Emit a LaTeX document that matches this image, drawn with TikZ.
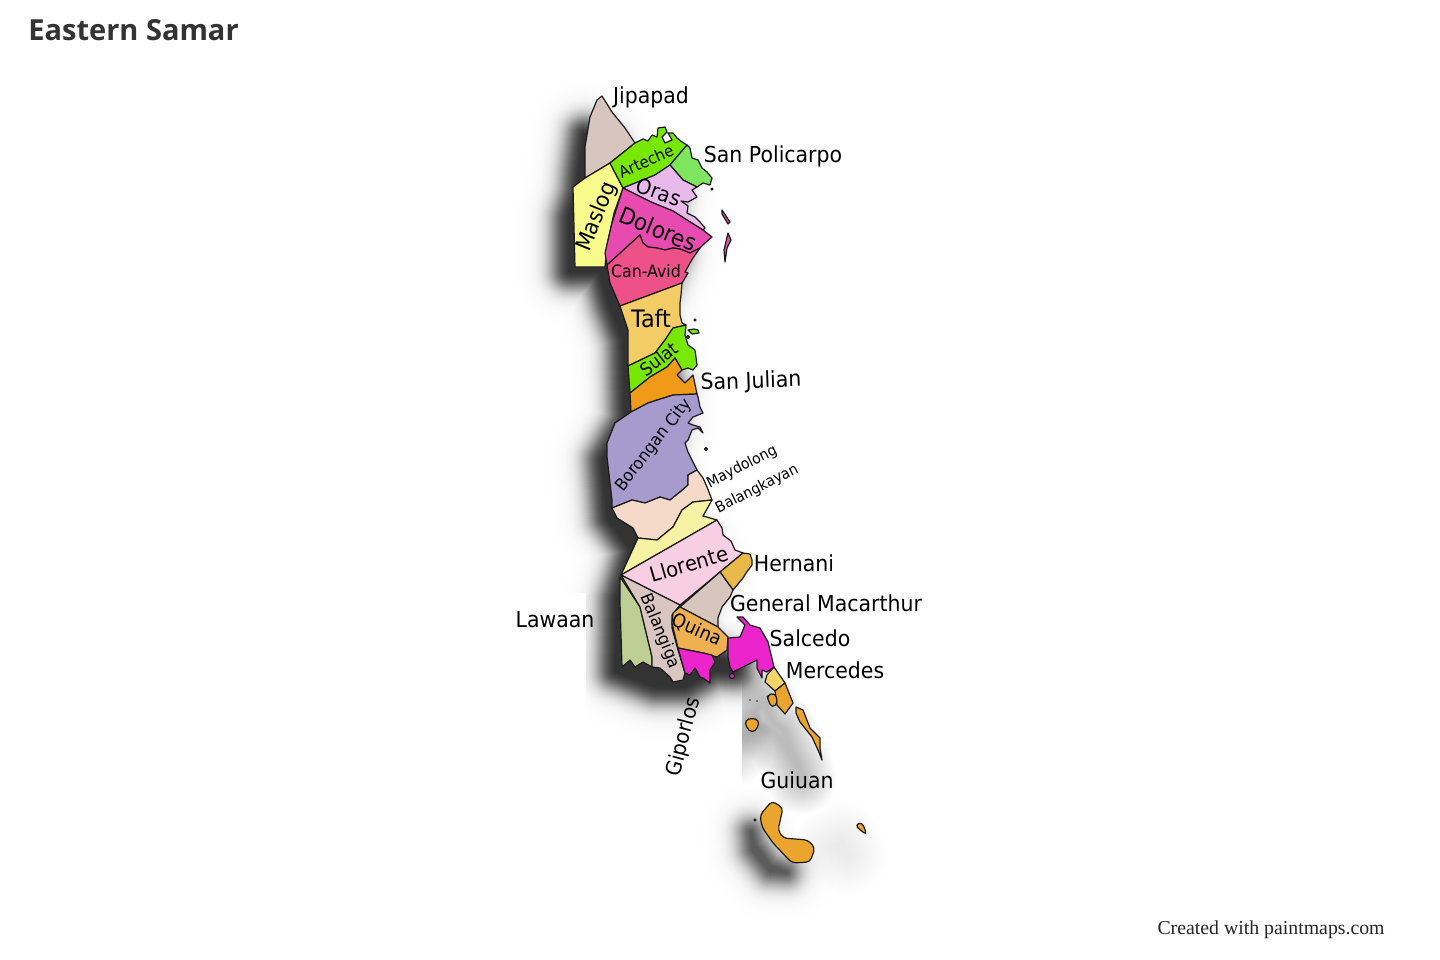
\documentclass[tikz,border=0pt]{standalone}
\usepackage{fontspec}
\setmainfont{Liberation Serif}
\newfontfamily\lblfont[FakeStretch=0.93]{DejaVu Sans}
\newfontfamily\titlefont{Open Sans}
\usetikzlibrary{calc}
\definecolor{cJipapad}{HTML}{D6C6BE}
\definecolor{cArteche}{HTML}{78E803}
\definecolor{cPolicarpo}{HTML}{80E55E}
\definecolor{cOras}{HTML}{EAB9EC}
\definecolor{cDolores}{HTML}{E84BB0}
\definecolor{cMaslog}{HTML}{F8FA8C}
\definecolor{cCanAvid}{HTML}{EE5088}
\definecolor{cTaft}{HTML}{F4CC66}
\definecolor{cJulian}{HTML}{F19A17}
\definecolor{cBorongan}{HTML}{A79BCE}
\definecolor{cMaydolong}{HTML}{F5D9C9}
\definecolor{cBalangkayan}{HTML}{F6F2A4}
\definecolor{cLlorente}{HTML}{F8CFE2}
\definecolor{cHernani}{HTML}{E8B84A}
\definecolor{cBalangiga}{HTML}{D9C6C0}
\definecolor{cLawaan}{HTML}{BDCF95}
\definecolor{cQuina}{HTML}{EEB050}
\definecolor{cSalcedo}{HTML}{EC24CC}
\definecolor{cMercedes}{HTML}{F6D568}
\definecolor{cGuiuan}{HTML}{EBA52F}
\definecolor{cLine}{HTML}{1A1A1A}

\def\pJipapad{(602,96) -- (612,112) -- (625,128) -- (635,143) -- (610,163) -- (585,178) -- (585,147) -- (590,117) -- (597,100) -- cycle}
\def\pArteche{(610,163) -- (635,143) -- (643,139) -- (648,141) -- (652,135) -- (657,137) -- (658,128) -- (665,127) -- (667,132) -- (662,137) -- (665,143) -- (672,140) -- (668,133) -- (673,133) -- (677,138) -- (682,142) -- (687,145) -- (670,165) -- (655,175) -- (623,188) -- cycle}
\def\pPolicarpo{(687,145) -- (690,148) -- (692,158) -- (698,160) -- (702,168) -- (707,172) -- (712,178) -- (710,185) -- (703,183) -- (697,187) -- (683,180) -- (670,165) -- cycle}
\def\pOras{(623,188) -- (655,175) -- (670,165) -- (683,180) -- (697,187) -- (692,190) -- (697,197) -- (688,202) -- (681,201) -- (688,206) -- (687,213) -- (695,217) -- (700,222) -- (705,228) -- (703,230) -- (687,220) -- (673,211) -- (651,202) -- cycle}
\def\pDolores{(623,188) -- (651,202) -- (673,211) -- (687,220) -- (703,230) -- (712,237) -- (705,243) -- (700,248) -- (690,253) -- (680,249) -- (673,248) -- (665,250) -- (657,248) -- (648,247) -- (643,243) -- (640,235) -- (607,265) -- (605,253) -- (612,223) -- cycle}
\def\pMaslog{(610,163) -- (585,178) -- (573,187) -- (575,267) -- (605,267) -- (607,245) -- (614,213) -- (623,188) -- cycle}
\def\pCanAvid{(607,265) -- (640,235) -- (643,243) -- (648,247) -- (657,248) -- (665,250) -- (673,248) -- (680,249) -- (690,253) -- (700,248) -- (693,258) -- (690,263) -- (685,272) -- (688,273) -- (685,278) -- (682,283) -- (620,306) -- (610,283) -- cycle}
\def\pTaft{(620,306) -- (682,283) -- (681,295) -- (680,303) -- (680,315) -- (682,323) -- (686,325) -- (673,328) -- (665,340) -- (655,353) -- (628,366) -- (628,330) -- cycle}
\def\pSulat{(628,366) -- (655,353) -- (665,340) -- (673,328) -- (686,325) -- (685,335) -- (688,345) -- (695,350) -- (697,365) -- (693,370) -- (688,368) -- (682,370) -- (675,358) -- (667,367) -- (650,377) -- (630,393) -- cycle}
\def\pSulatIsle{(688,330) -- (694,329) -- (698,330) -- (699,333) -- (692,334) -- cycle}
\def\pJulian{(630,393) -- (650,377) -- (667,367) -- (675,358) -- (682,370) -- (677,375) -- (685,383) -- (693,375) -- (697,394) -- (673,395) -- (648,403) -- (631,412) -- cycle}
\def\pBorongan{(631,412) -- (648,403) -- (673,395) -- (697,394) -- (698,397) -- (700,407) -- (703,413) -- (693,417) -- (688,423) -- (693,425) -- (700,427) -- (703,433) -- (698,428) -- (692,430) -- (688,440) -- (685,443) -- (688,452) -- (692,460) -- (697,470) -- (688,475) -- (688,485) -- (680,492) -- (670,500) -- (660,497) -- (645,503) -- (632,500) -- (612,508) -- (612,500) -- (607,457) -- (607,443) -- (615,423) -- cycle}
\def\pMaydolong{(612,508) -- (632,500) -- (645,503) -- (660,497) -- (670,500) -- (680,492) -- (688,485) -- (688,475) -- (697,470) -- (703,478) -- (707,487) -- (712,500) -- (693,502) -- (682,510) -- (673,527) -- (657,540) -- (638,538) -- (633,528) -- (617,518) -- cycle}
\def\pBalangkayan{(638,538) -- (657,540) -- (673,527) -- (682,510) -- (693,502) -- (712,500) -- (703,516) -- (717,520) -- (621,575) -- cycle}
\def\pLlorente{(621,575) -- (717,520) -- (722,528) -- (723,535) -- (731,541) -- (735,550) -- (743,553) -- (720,572) -- (680,605) -- cycle}
\def\pHernani{(743,553) -- (750,554) -- (752,560) -- (752,565) -- (746,573) -- (743,578) -- (733,590) -- (720,572) -- cycle}
\def\pMacarthur{(720,572) -- (733,590) -- (730,597) -- (722,607) -- (718,618) -- (718,627) -- (680,607) -- cycle}
\def\pBalangiga{(621,575) -- (680,605) -- (672,615) -- (672,628) -- (678,650) -- (685,673) -- (683,680) -- (673,682) -- (670,677) -- (660,668) -- (652,667) -- (652,657) -- (640,607) -- cycle}
\def\pLawaan{(620,577) -- (640,607) -- (652,657) -- (652,667) -- (643,662) -- (635,667) -- (630,660) -- (622,667) -- (620,603) -- cycle}
\def\pQuina{(680,607) -- (718,627) -- (728,637) -- (727,650) -- (717,657) -- (703,653) -- (678,648) -- (672,623) -- (673,613) -- cycle}
\def\pGiporlos{(678,648) -- (703,653) -- (712,655) -- (715,662) -- (710,670) -- (710,683) -- (703,678) -- (700,677) -- (695,668) -- (690,675) -- (685,673) -- cycle}
\def\pSalcedo{(737,617) -- (743,617) -- (750,625) -- (760,628) -- (768,642) -- (774,667) -- (767,672) -- (762,670) -- (762,678) -- (757,668) -- (757,660) -- (747,665) -- (733,672) -- (730,667) -- (728,657) -- (728,638) -- (740,637) -- (745,625) -- cycle}
\def\pMercedes{(774,667) -- (785,683) -- (775,691) -- (765,682) -- (767,675) -- cycle}
\def\pGuiuanA{(785,683) -- (793,703) -- (785,714) -- (777,705) -- (775,691) -- cycle}
\def\pGuiuanB{(796,707) -- (803,710) -- (810,728) -- (820,738) -- (820,748) -- (822,760) -- (818,750) -- (812,737) -- (800,722) -- (796,713) -- cycle}
\def\pGuiuanC{(767,695) -- (775,693) -- (778,703) -- (772,708) -- (768,700) -- cycle}
\def\pGuiuanD{(752,718) -- (759,720) -- (758,728) -- (752,733) -- (746,727) -- (745,720) -- cycle}
\def\pGuiuanE{(772,801) -- (783,808) -- (778,830) -- (783,838) -- (808,840) -- (815,848) -- (810,862) -- (792,863) -- (773,843) -- (762,827) -- (760,815) -- cycle}
\def\pGuiuanF{(855,825) -- (862,822) -- (867,835) -- (860,830) -- cycle}
% inner cores of the shadows
\def\pMainCore{(605,115) -- (600,150) -- (598,172) -- (590,198) -- (590,251) -- (620,251) -- (630,285) -- (644,320) -- (646,400) -- (623,440) -- (628,498) -- (652,530) -- (637,580) -- (636,651) -- (675,666) -- (705,666) -- (735,650) -- (755,651) -- (755,645) -- (725,635) -- (700,600) -- (725,555) -- (700,510) -- (680,470) -- (675,430) -- (685,400) -- (686,368) -- (670,325) -- (670,283) -- (690,235) -- (680,210) -- (685,170) -- (640,160) -- (625,130) -- cycle}
\def\pIslandCore{(771,812) -- (773,830) -- (790,851) -- (806,852) -- (790,846) -- (775,826) -- cycle}
\def\pPeninsula{(785,683) -- (793,703) -- (803,710) -- (810,728) -- (820,748) -- (822,760) -- (812,737) -- (796,713) -- (777,705) -- (775,691) -- cycle}

% soft shadow: #1 core path, #2 darkness, #3 sigma, #4 half-tone distance from the core
\newcommand{\softshadow}[4]{%
    \foreach \d in {54,53,...,1} {
      \pgfmathsetmacro{\n}{#2*100/(1+exp(1.7*(\d-#4)/#3))}
      \filldraw[color=black!\n!white, line join=round, line width=\d pt] #1;
    }}
% see-through shadow of a thin shape: #1 path, #2 alpha of a layer, #3 widest layer
\newcommand{\liteshadow}[3]{%
  \foreach \d in {#3,\fpeval{#3-2},...,2} {
    \draw[black, opacity=#2, line join=round, line width=\d pt] #1;
  }}

\begin{document}
\begin{tikzpicture}[x=0.5pt, y=-0.5pt,
    land/.style={draw=cLine, line width=0.6pt, line join=round},
    isle/.style={land, rounded corners=2pt},
    lbl/.style={font=\lblfont, text=black, inner sep=0pt}
    ]
    \useasboundingbox (0,0) rectangle (1440,959);
    \fill[white] (0,0) rectangle (1440,959);

    % shadows first
    \begin{scope}[shift={(-20,20)}]
        \begin{scope}
            \clip (500,60) -- (800,60) -- (800,790) -- (606,790) -- (606,572) -- (500,572) -- cycle;
            \softshadow{\pMainCore}{0.88}{11}{16}
        \end{scope}
        \softshadow{\pIslandCore}{0.78}{11}{11}
        \begin{scope}
            \clip (762,650) rectangle (900,850);
            \liteshadow{\pPeninsula}{0.016}{34}
            \liteshadow{\pGuiuanD}{0.012}{34}
        \end{scope}
        \liteshadow{\pGuiuanF}{0.004}{40}
    \end{scope}

    % regions
    \foreach \reg/\col in {\pJipapad/cJipapad, \pMaslog/cMaslog, \pArteche/cArteche, \pPolicarpo/cPolicarpo,
            \pOras/cOras, \pDolores/cDolores, \pCanAvid/cCanAvid, \pTaft/cTaft, \pSulat/cArteche,
            \pSulatIsle/cArteche, \pJulian/cJulian, \pBorongan/cBorongan, \pMaydolong/cMaydolong,
            \pBalangkayan/cBalangkayan, \pLlorente/cLlorente, \pHernani/cHernani, \pMacarthur/cJipapad,
            \pLawaan/cLawaan, \pBalangiga/cBalangiga, \pQuina/cQuina, \pGiporlos/cSalcedo,
            \pSalcedo/cSalcedo, \pMercedes/cMercedes, \pGuiuanA/cGuiuan, \pGuiuanB/cGuiuan} {
        \filldraw[land, fill=\col] \reg;
    }
    \foreach \reg in {\pGuiuanC, \pGuiuanD, \pGuiuanE, \pGuiuanF} {
        \filldraw[isle, fill=cGuiuan] \reg;
    }

    % small islets
    \filldraw[land, fill=cDolores] (722,210) -- (730,222) -- (728,224) -- (722,214) -- cycle
        (728,233) -- (731,240) -- (727,248) -- (725,262) -- (724,250) -- cycle;
    \filldraw[land, fill=cSalcedo] (732,676) circle (2.5);
    \filldraw[land, fill=cArteche] (695,320) circle (1) (688,337) circle (1.5) (712,189) circle (1);
    \filldraw[land, fill=cBorongan] (706,449) circle (1.5);
    \fill[cLine] (750,700) circle (0.8) (757,701) circle (0.8);
    \filldraw[land, fill=cGuiuan] (755,820) circle (1);

    % outside labels
    \node[lbl, font=\lblfont\fontsize{11}{11}\selectfont] (Jipapad) at (651,97) {Jipapad};
    \node[lbl, font=\lblfont\fontsize{11}{11}\selectfont] (SanPolicarpo) at (773,156) {San Policarpo};
    \node[lbl, font=\lblfont\fontsize{11}{11}\selectfont, rotate=2] (SanJulian) at (751,382) {San Julian};
    \node[lbl, font=\lblfont\fontsize{7.5}{7.5}\selectfont, rotate=27] (Maydolong) at (742,467) {Maydolong};
    \node[lbl, font=\lblfont\fontsize{7.5}{7.5}\selectfont, rotate=27] (Balangkayan) at (757,489) {Balangkayan};
    \node[lbl, font=\lblfont\fontsize{11}{11}\selectfont] (Hernani) at (794,563) {Hernani};
    \node[lbl, font=\lblfont\fontsize{11}{11}\selectfont] (Macarthur) at (826,603) {General Macarthur};
    \node[lbl, font=\lblfont\fontsize{11}{11}\selectfont] (Salcedo) at (810,638) {Salcedo};
    \node[lbl, font=\lblfont\fontsize{11}{11}\selectfont] (Mercedes) at (835,670) {Mercedes};
    \node[lbl, font=\lblfont\fontsize{11}{11}\selectfont] (Lawaan) at (555,620) {Lawaan};
    \node[lbl, font=\lblfont\fontsize{11}{11}\selectfont] (Guiuan) at (797,780) {Guiuan};
    \node[lbl, font=\lblfont\fontsize{10.5}{10.5}\selectfont, rotate=75] (Giporlos) at (684,737) {Giporlos};

    % labels on the land
    \node[lbl, font=\lblfont\fontsize{8}{8}\selectfont, rotate=24] (Arteche) at (646,161) {Arteche};
    \node[lbl, font=\lblfont\fontsize{10.5}{10.5}\selectfont, rotate=-20] (Oras) at (659,192) {Oras};
    \node[lbl, font=\lblfont\fontsize{11}{11}\selectfont, rotate=68] (Maslog) at (597,217) {Maslog};
    \node[lbl, font=\lblfont\fontsize{11.5}{11.5}\selectfont, rotate=-22] (Dolores) at (658,229) {Dolores};
    \node[lbl, font=\lblfont\fontsize{8.5}{8.5}\selectfont] (CanAvid) at (646,271) {Can-Avid};
    \node[lbl, font=\lblfont\fontsize{12}{12}\selectfont] (Taft) at (651,319) {Taft};
    \node[lbl, font=\lblfont\fontsize{9}{9}\selectfont, rotate=38] (Sulat) at (659,359) {Sulat};
    \node[lbl, font=\lblfont\fontsize{8.5}{8.5}\selectfont, rotate=52] (Borongan) at (654,445) {Borongan City};
    \node[lbl, font=\lblfont\fontsize{10.5}{10.5}\selectfont, rotate=16] (Llorente) at (689,564) {Llorente};
    \node[lbl, font=\lblfont\fontsize{8.5}{8.5}\selectfont, rotate=-68] (Balangiga) at (660,631) {Balangiga};
    \node[lbl, font=\lblfont\fontsize{9.5}{9.5}\selectfont, rotate=-24] (Quina) at (697,630) {Quina};

    \node[anchor=west, inner sep=0pt, text=black!80, font=\titlefont\bfseries\fontsize{14.5}{14.5}\selectfont] (title) at (28,30) {Eastern Samar};
    \node[anchor=east, inner sep=0pt, text=black!85, font=\fontsize{9.9}{9.9}\selectfont] (credit) at (1385,930) {Created with paintmaps.com};
\end{tikzpicture}
\end{document}
